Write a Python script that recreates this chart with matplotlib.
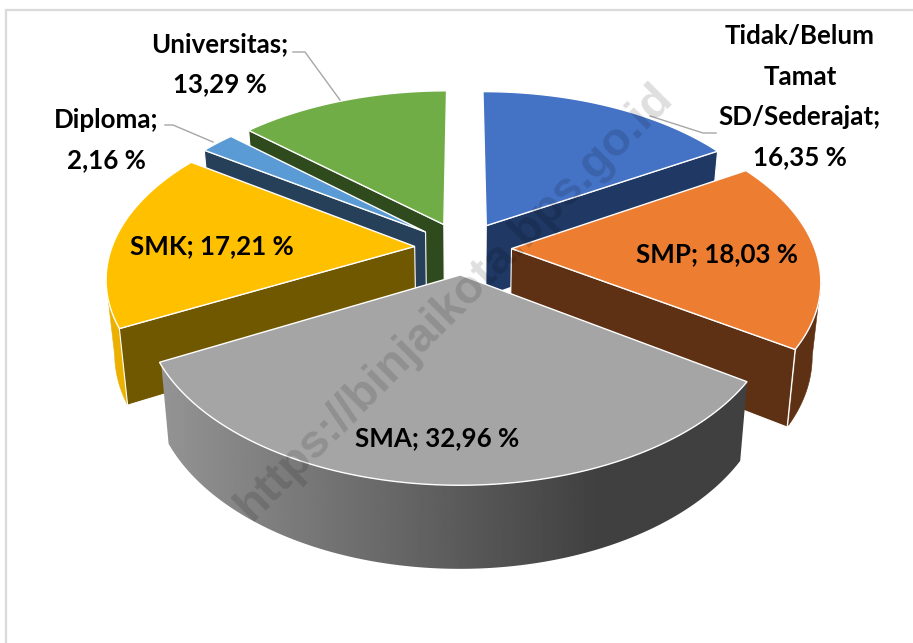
import numpy as np
import matplotlib
matplotlib.use("Agg")
from matplotlib import pyplot as plt
from matplotlib.patches import Polygon

# Data
labels = ["Tidak/Belum\nTamat\nSD/Sederajat;", "SMP;", "SMA;", "SMK;", "Diploma;", "Universitas;"]
values = [16.35, 18.03, 32.96, 17.21, 2.16, 13.29]
top_colors = ["#4472C4", "#ED7D31", "#A5A5A5", "#FFC000", "#5B9BD5", "#70AD47"]
side_colors = ["#203864", "#5F3114", "#404040", "#705800", "#264059", "#2F4A1C"]
rim_colors = ["#203864", "#5F3114", None, "#EBB000", "#264059", "#2F4A1C"]
watermark = "https://binjaikota.bps.go.id"

# Label centres in pixels, and line break after the name or not
label_pos = [(800, 97), (717, 254), (437, 438), (212, 246), (106, 140), (220, 64)]
label_break = [True, False, False, False, True, True]

# Perspective of the pie, fitted on the picture
CX, CY = 463, 248
A, B, K = 303, 164, 0.171
EXPLODE = 0.16
SHRINK = 0.976


def project(u, v, bottom=False):
    u = np.asarray(u, dtype=float)
    v = np.asarray(v, dtype=float)
    w = 1 + K * v
    x = CX + A * u / w
    y = CY - B * v / w
    if bottom:
        x = CX + (x - CX) * SHRINK
        y = y + 72 - 10 * v
    return np.column_stack([x, y])


def face_visible(p, q, inside):
    # A cut face shows only when the slice top lies above its edge on screen
    dx, dy = q[0] - p[0], q[1] - p[1]
    if abs(dx) < 0.2 * abs(dy):
        return False
    return inside[1] < p[1] + (inside[0] - p[0]) * dy / dx


fig = plt.figure(figsize=(9.13, 6.43), dpi=100)
ax = fig.add_axes([0, 0, 1, 1])

# Chart frame
ax.plot([6, 6, 913], [643, 10, 10], color="#DADADA", lw=1.6, solid_joinstyle="miter")

fractions = np.array(values) / sum(values)
ends = np.cumsum(fractions) * 2 * np.pi
starts = ends - fractions * 2 * np.pi

# Back slices first
order = [0, 5, 4, 3, 1, 2]
z = 2
for i in order:
    t0, t1 = starts[i], ends[i]
    mid = (t0 + t1) / 2
    ou, ov = EXPLODE * np.sin(mid), EXPLODE * np.cos(mid)
    t = np.linspace(t0, t1, 120)
    ru, rv = ou + np.sin(t), ov + np.cos(t)

    top_rim = project(ru, rv)
    low_rim = project(ru, rv, True)
    apex = project([ou], [ov])
    low_apex = project([ou], [ov], True)
    inside = np.vstack([apex, top_rim]).mean(axis=0)

    # Curved side, only where it faces the viewer (x going left along the rim)
    front = np.append(np.diff(top_rim[:, 0]) < 0, False)
    if front.sum() > 1:
        side = np.vstack([top_rim[front], low_rim[front][::-1]])
        if rim_colors[i] is None:
            # SMA side goes dark from left to right
            side_patch = Polygon(side, facecolor="none", edgecolor="none", zorder=z)
            ax.add_patch(side_patch)
            xs = np.linspace(150, 760, 300)
            grad = np.interp(xs, [160, 600], [0.58, 0.25]).reshape(1, -1)
            ax.imshow(grad, cmap="gray", vmin=0, vmax=1, extent=[150, 760, 600, 300], aspect="auto",
                      clip_path=side_patch, clip_on=True, zorder=z)
        else:
            ax.add_patch(Polygon(side, facecolor=rim_colors[i], edgecolor=rim_colors[i], lw=0.4, zorder=z))
    z += 1

    # Flat faces of the cut
    for k in [0, -1]:
        if face_visible(apex[0], top_rim[k], inside):
            face = [apex[0], top_rim[k], low_rim[k], low_apex[0]]
            ax.add_patch(Polygon(face, facecolor=side_colors[i], edgecolor="white", lw=0.8, zorder=z))
    z += 1

    # Top of the slice
    ax.add_patch(Polygon(np.vstack([apex, top_rim]), facecolor=top_colors[i],
                         edgecolor="white", lw=1.0, joinstyle="miter", zorder=z))
    z += 1

ax.set_xlim(0, 913)
ax.set_ylim(643, 0)
ax.axis("off")

# Leader lines
ax.plot([293, 305, 340], [52, 52, 100], color="#A6A6A6", lw=1, zorder=z)
ax.plot([165, 173, 213], [125, 125, 142], color="#A6A6A6", lw=1, zorder=z)
ax.plot([716, 703, 650], [133, 133, 116], color="#A6A6A6", lw=1, zorder=z)

ax.text(455, 302, watermark, rotation=45, rotation_mode="anchor", ha="center", va="center",
        family="Liberation Sans", fontweight="bold", fontsize=33.8, color="black", alpha=0.13, zorder=z)

for name, val, pos, brk in zip(labels, values, label_pos, label_break):
    txt = f"{val:.2f}".replace(".", ",") + " %"
    sep = "\n" if brk else " "
    ax.text(pos[0], pos[1], name + sep + txt, ha="center", va="center", multialignment="center",
            family="Lato", fontweight="bold", fontsize=18.6, color="black", linespacing=1.82, zorder=z + 1)

fig.savefig("out.png", dpi=100)
